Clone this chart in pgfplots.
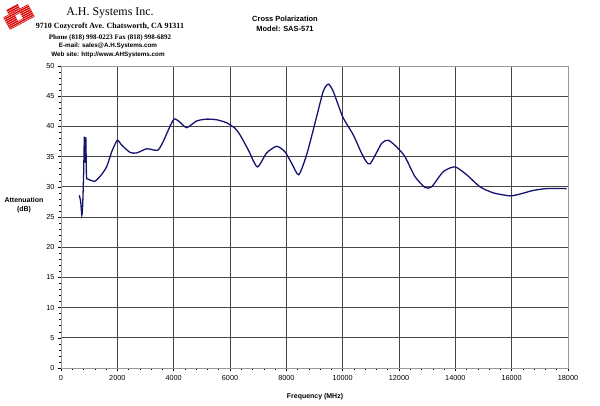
\documentclass[border=0pt]{standalone}
\usepackage{pgfplots}
\pgfplotsset{compat=1.18}
\usepackage{fontspec}
\setmainfont{Liberation Sans}
\newfontfamily\seriffont{Liberation Serif}
\definecolor{curve}{RGB}{20,20,110}
\definecolor{gridc}{RGB}{70,70,70}
\begin{document}
\begin{tikzpicture}[x=1bp,y=1bp]
\path[use as bounding box] (0,0) rectangle (600,405);
% logo
\begin{scope}[shift={(19,388)},rotate=28]
\fill[red!85!black] (-14,-7) rectangle (14,7);
\fill[red!85!black] (-8,7) rectangle (5,12);
\foreach \yy in {-6,-4,...,11} {\draw[white,line width=0.35bp] (-14,\yy) -- (14,\yy);}
\fill[white] (-2.5,-3) rectangle (2.5,3);
\end{scope}
% header
\node[font=\seriffont\fontsize{12}{14}\selectfont] at (110,392) {A.H. Systems Inc.};
\node[font=\seriffont\bfseries\fontsize{8}{9}\selectfont] at (110,378) {9710 Cozycroft Ave. Chatsworth, CA 91311};
\node[font=\seriffont\bfseries\fontsize{7}{8}\selectfont] at (110,367) {Phone (818) 998-0223 Fax (818) 998-6892};
\node[font=\bfseries\fontsize{6.3}{7}\selectfont] at (108,359) {E-mail: sales@A.H.Systems.com};
\node[font=\bfseries\fontsize{6.3}{7}\selectfont] at (108,350) {Web site: http://www.AHSystems.com};
\node[font=\bfseries\fontsize{7.5}{9.5}\selectfont,align=center] at (285,381) {Cross Polarization\\Model: SAS-571};
\node[font=\bfseries\fontsize{7}{8.5}\selectfont,align=center] at (24,200) {Attenuation\\(dB)};
\node[font=\bfseries\fontsize{7}{8.5}\selectfont] at (315,8) {Frequency (MHz)};
\begin{axis}[
  at={(61bp,37bp)}, anchor=south west,
  scale only axis, width=507bp, height=302bp,
  xmin=0, xmax=18000, ymin=0, ymax=50,
  xtick={0,2000,...,18000}, ytick={0,5,...,50},
  minor x tick num=4, minor y tick num=4,
  scaled x ticks=false,
  xticklabel style={/pgf/number format/.cd,1000 sep={},assume math mode=true},
  yticklabel style={/pgf/number format/assume math mode=true},
  tick label style={font=\fontsize{7.3}{8}\selectfont},
  xticklabel shift=1bp,
  grid=major,
  major grid style={gridc,line width=0.8bp},
  axis line style={gray!80},
  tick align=outside, tick pos=left,
  major tick length=3bp, minor tick length=2bp,
  tick style={black,line width=0.5bp},
  axis on top=false,
]
\addplot[curve, line width=1.3bp, smooth, tension=0.4] coordinates {
(650,28.6)(700,27.5)(740,25.3)(770,27)(805,32.5)(830,38.3)(850,34)(880,38.2)(905,31.8)
(950,31.3)(1100,31.0)(1200,30.9)(1385,31.7)(1620,33.3)(1800,35.8)(2000,37.7)
(2155,36.9)(2450,35.7)(2685,35.6)(3040,36.3)(3280,36.1)(3455,36.1)(3630,37.5)
(3810,39.4)(4010,41.2)(4200,40.8)(4460,39.8)(4815,40.9)(5170,41.2)(5525,41.1)
(5880,40.6)(6175,39.7)(6355,38.6)(6650,36.1)(6970,33.3)(7300,35.6)(7655,36.7)
(7950,35.8)(8190,33.9)(8440,32.0)(8720,35.3)(9015,40.5)(9310,45.8)(9490,47.0)
(9665,45.8)(10000,41.6)(10375,38.6)(10730,35.0)(10970,33.8)(11385,37.2)(11620,37.7)
(11915,36.6)(12210,35.0)(12565,31.7)(12920,29.9)(13160,30.0)(13570,32.5)(13985,33.3)
(14400,32.0)(14875,30.0)(15345,29.0)(15940,28.5)(16295,28.8)(16765,29.4)(17240,29.7)(17950,29.7)
};
\end{axis}
\end{tikzpicture}
\end{document}
